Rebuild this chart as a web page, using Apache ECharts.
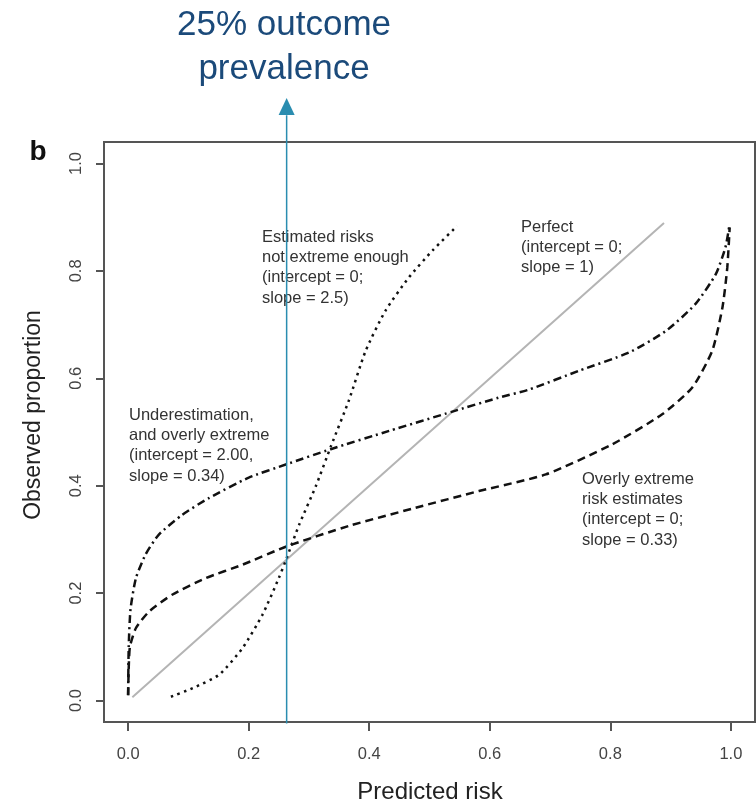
<!DOCTYPE html>
<html>
<head>
<meta charset="utf-8">
<script src="https://cdn.jsdelivr.net/npm/echarts@6/dist/echarts.min.js"></script>
<style>
  html, body { margin: 0; padding: 0; background: #fff; }
  #chart { width: 756px; height: 806px; }
</style>
</head>
<body>
<div id="chart"></div>
<script>
// values
const tickValues = [0, 0.2, 0.4, 0.6, 0.8, 1.0];

// Perfect (intercept = 0; slope = 1)
const perfectX = [0.007, 0.889];
const perfectY = [0.006, 0.889];

// Underestimation, and overly extreme (dot-dash)
const underX = [0.0, 0.001, 0.004, 0.013, 0.029, 0.051, 0.09, 0.134, 0.20, 0.263, 0.336, 0.433, 0.538, 0.615, 0.665, 0.748, 0.831, 0.892, 0.941, 0.975, 0.991, 0.997];
const underY = [0.01, 0.10, 0.17, 0.228, 0.272, 0.309, 0.346, 0.377, 0.415, 0.44, 0.468, 0.502, 0.538, 0.564, 0.579, 0.614, 0.648, 0.688, 0.738, 0.794, 0.844, 0.881];

// Overly extreme risk estimates (dashed)
const extremeX = [0.0, 0.001, 0.003, 0.013, 0.035, 0.073, 0.129, 0.19, 0.263, 0.366, 0.477, 0.582, 0.693, 0.803, 0.886, 0.936, 0.969, 0.986, 0.994, 0.998];
const extremeY = [0.01, 0.06, 0.10, 0.135, 0.166, 0.197, 0.228, 0.253, 0.287, 0.325, 0.359, 0.39, 0.421, 0.477, 0.533, 0.583, 0.651, 0.732, 0.806, 0.881];

// Estimated risks not extreme enough (dotted)
const notExtremeX = [0.071, 0.107, 0.151, 0.19, 0.223, 0.25, 0.263, 0.284, 0.311, 0.337, 0.366, 0.394, 0.427, 0.466, 0.505, 0.546];
const notExtremeY = [0.007, 0.023, 0.048, 0.098, 0.16, 0.228, 0.265, 0.328, 0.398, 0.475, 0.558, 0.651, 0.726, 0.788, 0.838, 0.884];

// 25% outcome prevalence marker
const prevalenceX = 0.263;
const prevalenceY = [-0.043, 1.09, 1.106];

function pairs(xs, ys) {
  return xs.map((x, i) => [x, ys[i]]);
}

const chart = echarts.init(document.getElementById('chart'));
const font = 'Liberation Sans, Arial, sans-serif';

let option = {
  animation: false,
  grid: {
    left: 104, right: 1, top: 142, bottom: 84,
    show: true,
    borderColor: '#555',
    borderWidth: 2,
    outerBoundsMode: 'none'
  },
  xAxis: {
    type: 'value',
    min: -0.04, max: 1.04,
    axisLine: {show: false, onZero: false},
    splitLine: {show: false},
    axisTick: {show: true, inside: false, customValues: tickValues, length: 9, lineStyle: {color: '#555', width: 2}},
    axisLabel: {
      customValues: tickValues,
      formatter: v => v.toFixed(1),
      color: '#444', fontSize: 16.5, fontFamily: font, margin: 24
    }
  },
  yAxis: {
    type: 'value',
    min: -0.04, max: 1.04,
    axisLine: {show: false, onZero: false},
    splitLine: {show: false},
    axisTick: {show: true, inside: false, customValues: tickValues, length: 8, lineStyle: {color: '#555', width: 2}},
    axisLabel: {
      customValues: tickValues,
      formatter: v => v.toFixed(1),
      rotate: 90,
      color: '#444', fontSize: 16.5, fontFamily: font, margin: 19
    }
  },
  series: [
    {
      name: 'Perfect', type: 'line', data: pairs(perfectX, perfectY),
      showSymbol: false, lineStyle: {color: '#b4b4b4', width: 2}
    },
    {
      name: 'Underestimation', type: 'line', data: pairs(underX, underY),
      showSymbol: false, smooth: 0.2,
      lineStyle: {color: '#111', width: 2.5, type: [8, 4, 2, 4]}
    },
    {
      name: 'Overly extreme', type: 'line', data: pairs(extremeX, extremeY),
      showSymbol: false, smooth: 0.2,
      lineStyle: {color: '#111', width: 2.5, type: [8, 5]}
    },
    {
      name: 'Not extreme enough', type: 'line', data: pairs(notExtremeX, notExtremeY),
      showSymbol: false, smooth: 0.2,
      lineStyle: {color: '#111', width: 2.5, type: [2.5, 4.5]}
    },
    {
      name: 'Prevalence', type: 'line', clip: false, z: 5,
      data: [
        {value: [prevalenceX, prevalenceY[0]], symbol: 'none'},
        {value: [prevalenceX, prevalenceY[1]], symbol: 'none'}
      ],
      lineStyle: {color: '#2a8db0', width: 1.5}
    },
    {
      name: 'Arrow', type: 'scatter', clip: false, z: 5,
      data: [[prevalenceX, prevalenceY[2]]],
      symbol: 'triangle', symbolSize: [16, 17],
      itemStyle: {color: '#2a8db0', opacity: 1}
    }
  ],
  graphic: [
    {
      type: 'text', x: 284, y: 3,
      style: {text: '25% outcome\nprevalence', font: '35px ' + font, fill: '#1b4a7a',
        textAlign: 'center', textVerticalAlign: 'top', lineHeight: 44}
    },
    {
      type: 'text', x: 38, y: 152,
      style: {text: 'b', font: 'bold 28px ' + font, fill: '#111', textAlign: 'center', textVerticalAlign: 'middle'}
    },
    {
      type: 'text', x: 430, y: 792,
      style: {text: 'Predicted risk', font: '24px ' + font, fill: '#222', textAlign: 'center', textVerticalAlign: 'middle'}
    },
    {
      type: 'text', x: 34, y: 415, rotation: Math.PI / 2,
      style: {text: 'Observed proportion', font: '23px ' + font, fill: '#222', textAlign: 'center', textVerticalAlign: 'middle'}
    },
    {
      type: 'text', x: 262, y: 227,
      style: {text: 'Estimated risks\nnot extreme enough\n(intercept = 0;\nslope = 2.5)', font: '16.5px ' + font,
        fill: '#333', textAlign: 'left', textVerticalAlign: 'top', lineHeight: 20.3}
    },
    {
      type: 'text', x: 521, y: 217,
      style: {text: 'Perfect\n(intercept = 0;\nslope = 1)', font: '16.5px ' + font,
        fill: '#333', textAlign: 'left', textVerticalAlign: 'top', lineHeight: 20.3}
    },
    {
      type: 'text', x: 582, y: 469,
      style: {text: 'Overly extreme\nrisk estimates\n(intercept = 0;\nslope = 0.33)', font: '16.5px ' + font,
        fill: '#333', textAlign: 'left', textVerticalAlign: 'top', lineHeight: 20.3}
    },
    {
      type: 'text', x: 129, y: 405,
      style: {text: 'Underestimation,\nand overly extreme\n(intercept = 2.00,\nslope = 0.34)', font: '16.5px ' + font,
        fill: '#333', textAlign: 'left', textVerticalAlign: 'top', lineHeight: 20.3}
    }
  ]
};
chart.setOption(option);
</script>
</body>
</html>
